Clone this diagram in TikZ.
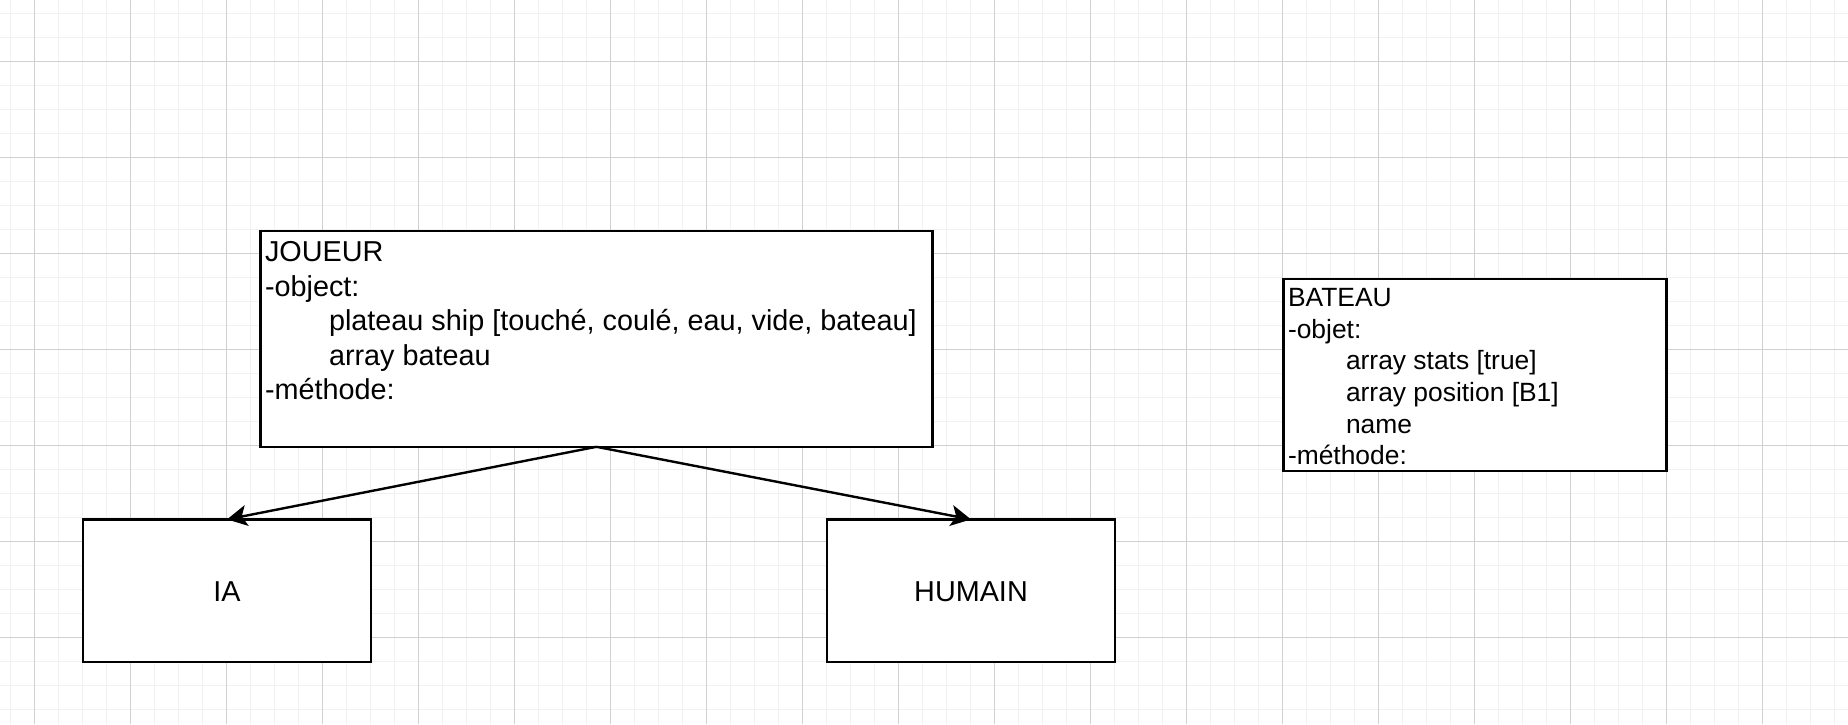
\documentclass[tikz,border=0pt]{standalone}
\usepackage{fontspec}
\setmainfont{Liberation Sans}
\usetikzlibrary{arrows.meta}
\definecolor{gridminor}{HTML}{F1F1F1}
\definecolor{gridmajor}{HTML}{D0D0D0}
\tikzset{
  minorline/.style={draw=gridminor, line width=1.1pt},
  majorline/.style={draw=gridmajor, line width=1.1pt},
  umlbox/.style={draw=black, line width=2.4pt, fill=white, rectangle, inner sep=0pt, outer sep=0pt},
  bigtxt/.style={font=\fontsize{28.8}{34.56}\selectfont, inner sep=0pt, outer sep=0pt, anchor=base west},
  smalltxt/.style={font=\fontsize{26.4}{31.68}\selectfont, inner sep=0pt, outer sep=0pt, anchor=base west},
  centertxt/.style={font=\fontsize{28.8}{34.56}\selectfont, inner sep=0pt},
  conn/.style={draw=black, line width=2.4pt, -{Stealth[length=20pt, width=21pt, inset=5pt]}}
}
\begin{document}
\begin{tikzpicture}[x=1pt, y=-1pt]
\useasboundingbox (0,0) rectangle (1848,724);
\fill[white] (0,0) rectangle (1848,724);
% grid
\foreach \i in {0,...,76} { \draw[minorline] ({10.3+24*\i},0) -- ++(0,724); }
\foreach \i in {0,...,30} { \draw[minorline] (0,{13.3+24*\i}) -- ++(1848,0); }
\foreach \i in {0,...,19} { \draw[majorline] ({34.3+96*\i},0) -- ++(0,724); }
\foreach \i in {0,...,7} { \draw[majorline] (0,{61.3+96*\i}) -- ++(1848,0); }
% boxes
\node[umlbox, minimum width=671.8pt, minimum height=215.8pt] (jou) at (596.4,338.9) {};
\node[umlbox, minimum width=383pt, minimum height=191.5pt] (bat) at (1474.8,375) {};
\node[umlbox, minimum width=288.5pt, minimum height=142.8pt] (ia) at (227,590.8) {};
\node[umlbox, minimum width=288.5pt, minimum height=142.8pt] (hum) at (971,590.8) {};
% JOUEUR text
\node[bigtxt] (j1) at (265,261.5) {JOUEUR};
\node[bigtxt] (j2) at (265,296.1) {-object:};
\node[bigtxt] (j3) at (329,330.6) {plateau ship [touché, coulé, eau, vide, bateau]};
\node[bigtxt] (j4) at (329,365.2) {array bateau};
\node[bigtxt] (j5) at (265,399.7) {-méthode:};
% BATEAU text
\node[smalltxt] (b1) at (1288,306.5) {BATEAU};
\node[smalltxt] (b2) at (1288,338.2) {-objet:};
\node[smalltxt] (b3) at (1346,369.9) {array stats [true]};
\node[smalltxt] (b4) at (1346,401.5) {array position [B1]};
\node[smalltxt] (b5) at (1346,433.2) {name};
\node[smalltxt] (b6) at (1288,464.9) {-méthode:};
% labels
\node[centertxt] (ialbl) at ([yshift=-1pt]ia.center) {IA};
\node[centertxt] (humlbl) at ([yshift=-1pt]hum.center) {HUMAIN};
% connectors
\draw[conn] (jou.south) -- (ia.north);
\draw[conn] (jou.south) -- (hum.north);
\end{tikzpicture}
\end{document}
